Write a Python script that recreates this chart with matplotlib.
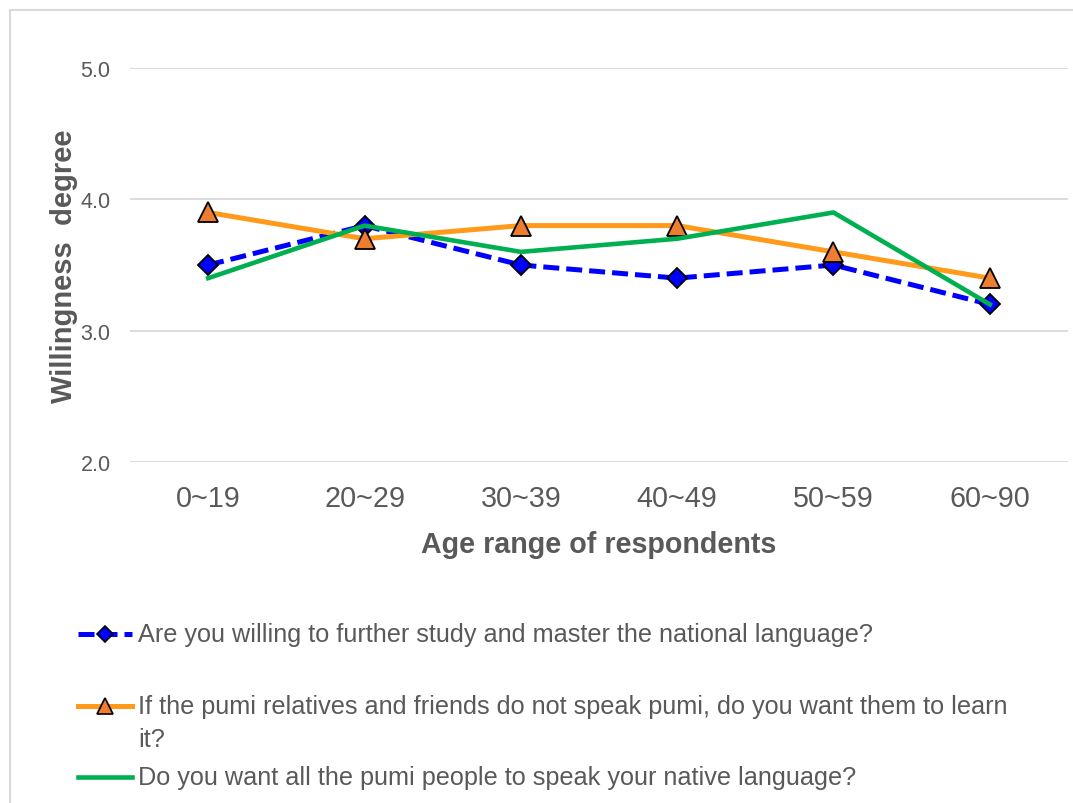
import matplotlib
matplotlib.use("Agg")
import matplotlib.pyplot as plt
from matplotlib.lines import Line2D
from matplotlib.patches import Rectangle

plt.rcParams['font.family'] = ['Liberation Sans', 'DejaVu Sans']

age_ranges = ["0~19", "20~29", "30~39", "40~49", "50~59", "60~90"]
study_national = [3.5, 3.8, 3.5, 3.4, 3.5, 3.2]
relatives_learn = [3.9, 3.7, 3.8, 3.8, 3.6, 3.4]
all_speak_native = [3.4, 3.8, 3.6, 3.7, 3.9, 3.2]
series_labels = [
    "Are you willing to further study and master the national language?",
    "If the pumi relatives and friends do not speak pumi, do you want them to learn\nit?",
    "Do you want all the pumi people to speak your native language?",
]
y_ticks = [2.0, 3.0, 4.0, 5.0]

grey = "#595959"
blue = "#0000FF"
orange = "#FF9A1A"
tri_fill = "#ED7D31"
green = "#00B050"

fig = plt.figure(figsize=(10.73, 8.04), dpi=100)
fig.add_artist(Rectangle((10 / 1073, -0.1), 1.2, 1 - 11 / 804 + 0.1,
                         transform=fig.transFigure, fill=False,
                         edgecolor="#D9D9D9", lw=1.5))

ax = fig.add_axes([130 / 1073, 1 - 463 / 804, 938 / 1073, 394 / 804])
x = list(range(len(age_ranges)))

blue_style = dict(color=blue, lw=3.6, linestyle=(0, (3.2, 1.4)), marker="D",
                  markersize=10.5, markerfacecolor=blue, markeredgecolor="black",
                  markeredgewidth=1.3)
orange_style = dict(color=orange, lw=3.6, marker="^", markersize=14,
                    markerfacecolor=tri_fill, markeredgecolor="black",
                    markeredgewidth=1.3)
green_style = dict(color=green, lw=3.3)

ax.plot(x, study_national, **blue_style)
ax.plot(x, relatives_learn, **orange_style)
ax.plot(x, all_speak_native, **green_style)

ax.set_xlim(-0.5, len(age_ranges) - 0.5)
ax.set_ylim(2.0, 5.0)
ax.set_yticks(y_ticks)
ax.set_yticklabels([f"{v:.1f}" for v in y_ticks])
ax.set_xticks(x)
ax.set_xticklabels(age_ranges)
ax.grid(axis="y", color="#D9D9D9", lw=1.3)
ax.set_axisbelow(True)
for s in ax.spines.values():
    s.set_visible(False)
ax.tick_params(axis="y", length=0, pad=14, labelsize=15.5, labelcolor=grey)
ax.tick_params(axis="x", length=0, pad=16, labelsize=20.7, labelcolor=grey)

ax.set_xlabel("Age range of respondents", fontsize=20.6, fontweight="bold",
              color=grey, labelpad=13)
ax.set_ylabel("Willingness  degree", fontsize=21, fontweight="bold",
              color=grey, labelpad=2)

# legend drawn below the plot
legend_rows = [635, 707, 778]
styles = [blue_style, orange_style, green_style]
for row, style, label in zip(legend_rows, styles, series_labels):
    yf = 1 - row / 804
    kw = {k: v for k, v in style.items() if not k.startswith("marker")}
    fig.add_artist(Line2D([78 / 1073, 132 / 1073], [yf, yf],
                          transform=fig.transFigure, **kw))
    if "marker" in style:
        fig.add_artist(Line2D([105 / 1073], [yf], transform=fig.transFigure,
                              marker=style["marker"],
                              markersize=style["markersize"] * 0.8,
                              markerfacecolor=style["markerfacecolor"],
                              markeredgecolor="black", markeredgewidth=1.2,
                              linestyle="none"))
    multi = "\n" in label
    fig.text(138 / 1073, 1 - (695 / 804) if multi else yf, label,
             fontsize=18.2, color=grey, va="top" if multi else "center",
             linespacing=1.45, transform=fig.transFigure)

fig.savefig("out.png", dpi=100)
